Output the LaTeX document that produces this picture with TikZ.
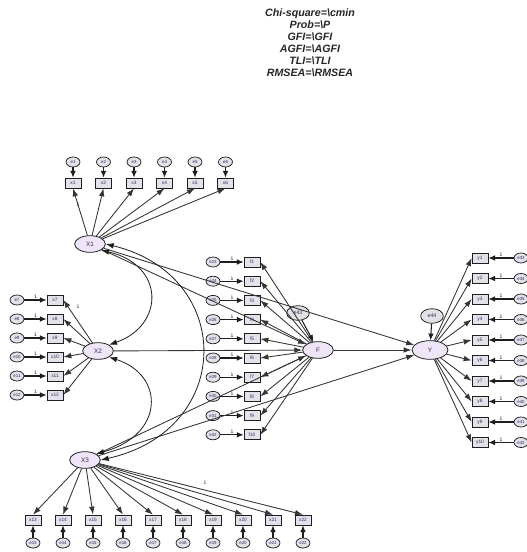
\documentclass[tikz,border=0pt]{standalone}
\usepackage{fontspec}
\setsansfont{Liberation Sans}
\usetikzlibrary{shapes.geometric,arrows.meta}
\definecolor{lav}{HTML}{EEE6F8}
\definecolor{boxfill}{HTML}{E2E2EA}
\definecolor{ink}{HTML}{1E1E1E}
\definecolor{lbl}{HTML}{3A2A5A}
\begin{document}
\begin{tikzpicture}[x=0.75pt,y=-0.75pt,
  lat/.style={ellipse,draw=ink,fill=lav,line width=0.6pt,minimum width=23pt,minimum height=12.5pt,inner sep=0pt,font=\sffamily\fontsize{4.8}{5}\selectfont,text=lbl},
  obs/.style={rectangle,draw=ink,fill=boxfill,line width=0.55pt,minimum width=12pt,minimum height=7.5pt,inner sep=0pt,font=\sffamily\fontsize{3.6}{4}\selectfont,text=lbl},
  err/.style={ellipse,draw=ink,fill=boxfill,line width=0.55pt,minimum width=10.5pt,minimum height=7.5pt,inner sep=0pt,font=\sffamily\fontsize{3.3}{4}\selectfont,text=lbl},
  dist/.style={ellipse,draw=ink,fill=lav!60!gray!45,line width=0.55pt,minimum width=17pt,minimum height=11pt,inner sep=0pt,font=\sffamily\fontsize{4}{5}\selectfont,text=lbl},
  pth/.style={draw=ink!90,line width=0.65pt,-{Latex[length=6pt,width=4.2pt]}},
  epth/.style={draw=ink,line width=0.8pt,-{Latex[length=5pt,width=4.2pt]}},
  cov/.style={draw=ink,line width=0.6pt,{Latex[length=6pt,width=4.2pt]}-{Latex[length=6pt,width=4.2pt]}},
  one/.style={font=\sffamily\fontsize{3.8}{4}\selectfont,inner sep=0.5pt,text=ink},
  stats/.style={align=center,font=\sffamily\bfseries\itshape\fontsize{8}{9}\selectfont,text=black!85}
]
\useasboundingbox (0,0) rectangle (527,552);

% fit statistics
\node[stats] (fit) at (310,42.5) {Chi-square=\textbackslash cmin\\Prob=\textbackslash P\\GFI=\textbackslash GFI\\AGFI=\textbackslash AGFI\\TLI=\textbackslash TLI\\RMSEA=\textbackslash RMSEA};

% latent variables
\node[lat] (X1) at (90,244) {X1};
\node[lat] (X2) at (98,351) {X2};
\node[lat] (X3) at (85,460) {X3};
\node[lat] (F) at (318,350) {F};
\node[lat,minimum width=27pt,minimum height=14pt] (Y) at (430,350) {Y};
\node[dist] (dF) at (298,313) {e43};
\node[dist] (dY) at (432,316) {e44};

% X1 indicators (top)
\foreach \i in {1,...,6}{
  \pgfmathsetmacro{\xx}{73+30.5*(\i-1)}
  \node[obs] (a\i) at (\xx,183) {x\i};
  \node[err] (ea\i) at (\xx,162) {e\i};
  \draw[epth] (ea\i) -- (a\i);
  \draw[pth] (X1) -- (a\i.south);
}
\node[one] (oa) at (78,205) {1};

% X2 indicators (left)
\foreach \i in {1,...,6}{
  \pgfmathsetmacro{\yy}{300+19*(\i-1)}
  \pgfmathtruncatemacro{\n}{\i+6}
  \node[obs] (b\i) at (55,\yy) {x\n};
  \node[err] (eb\i) at (17,\yy) {e\n};
  \draw[epth] (eb\i) -- node[one,above]{1} (b\i);
  \draw[pth] (X2) -- (b\i.east);
}
\node[one] (ob) at (78,307) {1};

% X3 indicators (bottom)
\foreach \i in {1,...,10}{
  \pgfmathsetmacro{\xx}{33+30*(\i-1)}
  \pgfmathtruncatemacro{\n}{\i+12}
  \node[obs] (c\i) at (\xx,520) {x\n};
  \node[err] (ec\i) at (\xx,543) {e\n};
  \draw[epth] (ec\i) -- (c\i);
  \draw[pth] (X3) -- (c\i.north);
}
\node[one] (oc) at (205,483) {1};

% F indicators
\foreach \i in {1,...,10}{
  \pgfmathsetmacro{\yy}{262+19.2*(\i-1)}
  \pgfmathtruncatemacro{\n}{\i+22}
  \node[obs] (f\i) at (252,\yy) {f\i};
  \node[err] (ef\i) at (213,\yy) {e\n};
  \draw[epth] (ef\i) -- node[one,above]{1} (f\i);
  \draw[pth] (F) -- (f\i.east);
}

% Y indicators
\foreach \i in {1,...,10}{
  \pgfmathsetmacro{\yy}{258+20.5*(\i-1)}
  \pgfmathtruncatemacro{\n}{\i+32}
  \node[obs] (y\i) at (480,\yy) {y\i};
  \node[err] (ey\i) at (521,\yy) {e\n};
  \draw[epth] (ey\i) -- node[one,above]{1} (y\i);
  \draw[pth] (Y) -- (y\i.west);
}

% disturbances
\draw[epth] (dF) -- (F);
\draw[epth] (dY) -- (Y);

% structural paths
\draw[pth] (X1) -- (F);
\draw[pth] (X2) -- (F);
\draw[pth] (X3) -- (F);
\draw[pth] (X1) -- (Y);
\draw[pth] (F) -- (Y);
\draw[pth] (X3) -- (Y);

% covariances
\draw[cov] (X1.south east) .. controls (165,265) and (165,325) .. (X2.north east);
\draw[cov] (X2.south east) .. controls (165,375) and (165,435) .. (X3.north east);
\draw[cov] (X1.east) .. controls (235,275) and (235,430) .. (X3.east);
\end{tikzpicture}
\end{document}
